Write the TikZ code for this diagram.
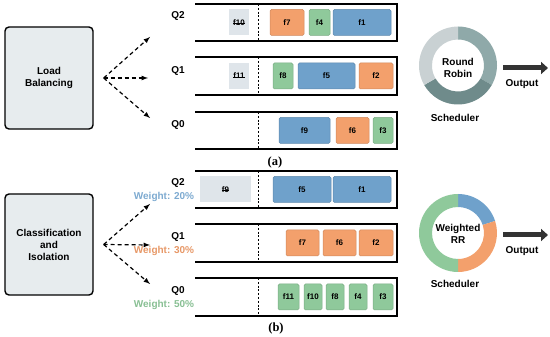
\documentclass[tikz,border=0pt]{standalone}
\usepackage{fontspec}
\setmainfont{Liberation Sans}
\newfontfamily\capfont{Liberation Serif}
\usetikzlibrary{arrows.meta, positioning}

\newsavebox\strkbox
\newcommand\strk[1]{\sbox\strkbox{#1}\rlap{\rule[0.33ex]{\wd\strkbox}{0.75pt}}\usebox\strkbox}

\definecolor{flowblue}{HTML}{6FA1CB}
\definecolor{floworange}{HTML}{F3A06C}
\definecolor{flowgreen}{HTML}{8FC99B}
\definecolor{gonegray}{HTML}{DFE5EA}
\definecolor{boxgray}{HTML}{E7ECEE}
\definecolor{ringlight}{HTML}{C9D1D3}
\definecolor{ringmid}{HTML}{8FA9A9}
\definecolor{ringdark}{HTML}{6F8B8B}
\definecolor{darkarr}{HTML}{333333}

\begin{document}
\begin{tikzpicture}[>=latex, x=1pt, y=1pt,
    font=\bfseries\fontsize{10}{12}\selectfont,
    bigbox/.style={draw, line width=1.4pt, rounded corners=4pt, fill=boxgray,
        minimum width=88pt, align=center, inner sep=0pt},
    flow/.style={draw=#1!85!black, fill=#1, rounded corners=1.5pt, line width=0.5pt,
        minimum height=26pt, inner sep=0pt, font=\bfseries\fontsize{8}{9}\selectfont},
    gone/.style={fill=gonegray, minimum height=26pt, inner sep=0pt,
        font=\bfseries\fontsize{8}{9}\selectfont},
    qline/.style={line width=1.6pt},
    sep/.style={dash pattern=on 2pt off 1.8pt, line width=0.7pt},
    spread/.style={->, line width=1.2pt, dash pattern=on 4pt off 3pt},
    outarr/.style={-{Triangle[length=7pt, width=12pt]}, line width=5pt, draw=darkarr},
    subcap/.style={font=\capfont\bfseries\fontsize{12.5}{14}\selectfont},
    ]
    \useasboundingbox (0,0) rectangle (550,337);

    % Khối bên trái
    \node[bigbox, minimum height=102pt] (lb) at (49,259) {Load\\Balancing};
    \node[bigbox, minimum height=101pt] (ci) at (49,92.5) {Classification\\and\\Isolation};

    % Mũi tên nét đứt
    \coordinate[right=10pt of lb] (sa);
    \coordinate[right=10pt of ci] (sb);
    \coordinate (ta2) at (150,300);
    \coordinate (ta1) at (148,259);
    \coordinate (ta0) at (150,219);
    \coordinate (tb2) at (150,133);
    \coordinate (tb1) at (150,92);
    \coordinate (tb0) at (150,53);
    \foreach \i in {0,1,2} {
        \draw[spread] (sa) -- (ta\i);
        \draw[spread] (sb) -- (tb\i);
    }

    % Nhãn hàng đợi
    \node (qa2) at (178,321) {Q2};
    \node (qa1) at (178,266) {Q1};
    \node (qa0) at (178,212) {Q0};
    \node (qb2) at (178,154) {Q2};
    \node (qb1) at (178,100) {Q1};
    \node (qb0) at (178,46) {Q0};
    \node[text=flowblue!90!white] (wb2) at (164,140) {Weight: 20\%};
    \node[text=floworange!95!black] (wb1) at (164,86) {Weight: 30\%};
    \node[text=flowgreen!95!black] (wb0) at (164,32) {Weight: 50\%};

    % Hàng đợi
    \foreach \yt/\yb in {333/296, 280/242, 225/188, 166/129, 113/75, 59/21} {
        \draw[qline] (195,\yt) -- (397,\yt) -- (397,\yb) -- (195,\yb);
        \draw[sep] (258,\yt) -- (258,\yb);
    }

    % Các luồng (a)
    \node[gone, minimum width=20pt] (a-f10) at (239,314.5) {\strk{f10}};
    \node[gone, minimum width=20pt] (a-f11) at (239,261) {\strk{f11}};
    \foreach \nm/\xa/\xb/\col/\yc in {
        f7/270/304/floworange/314.5, f4/309/330/flowgreen/314.5, f1/333/391/flowblue/314.5,
        f8/273/293/flowgreen/261, f5/298/355/flowblue/261, f2/359/393/floworange/261,
        f9/279/330/flowblue/206.5, f6/336/369/floworange/206.5, f3/373/393/flowgreen/206.5} {
        \node[flow=\col, minimum width=\xb pt-\xa pt] (a-\nm) at ({(\xa+\xb)/2},\yc) {\nm};
    }

    % Các luồng (b)
    \node[gone, minimum width=51pt] (b-f9) at (225.5,147.5) {\strk{f9}};
    \foreach \nm/\xa/\xb/\col/\yc in {
        f5/273/331/flowblue/147.5, f1/333/391/flowblue/147.5,
        f7/286/319/floworange/94, f6/323/356/floworange/94, f2/359/393/floworange/94,
        f11/278/299/flowgreen/40, f10/304/322/flowgreen/40, f8/326/344/flowgreen/40,
        f4/349/367/flowgreen/40, f3/373/393/flowgreen/40} {
        \node[flow=\col, minimum width=\xb pt-\xa pt] (b-\nm) at ({(\xa+\xb)/2},\yc) {\nm};
    }

    % Bộ lập lịch
    \coordinate (ra) at (458,271.5);
    \coordinate (rb) at (458,104);
    \foreach \a/\b/\c in {90/-30/ringmid, -30/-150/ringdark, 210/90/ringlight} {
        \fill[\c] ([shift={(\a:39)}]ra) arc[start angle=\a, end angle=\b, radius=39pt]
            -- ([shift={(\b:26)}]ra) arc[start angle=\b, end angle=\a, radius=26pt] -- cycle;
    }
    \foreach \a/\b/\c in {90/18/flowblue, 18/-90/floworange, 270/90/flowgreen} {
        \fill[\c] ([shift={(\a:39)}]rb) arc[start angle=\a, end angle=\b, radius=39pt]
            -- ([shift={(\b:26)}]rb) arc[start angle=\b, end angle=\a, radius=26pt] -- cycle;
    }
    \node[align=center] (rrA) at (458,269.5) {Round\\Robin};
    \node[align=center] (rrB) at (458,103) {Weighted\\RR};
    \node (schA) at (455,219) {Scheduler};
    \node (schB) at (455,53) {Scheduler};

    % Đầu ra
    \coordinate (oa1) at (503,269);
    \coordinate (oa2) at (548,269);
    \coordinate (ob1) at (503,102);
    \coordinate (ob2) at (548,102);
    \draw[outarr] (oa1) -- (oa2);
    \draw[outarr] (ob1) -- (ob2);
    \node (outA) at (522,253) {Output};
    \node (outB) at (522,86) {Output};

    % Chú thích
    \node[subcap] (capA) at (275,175) {(a)};
    \node[subcap] (capB) at (276,9) {(b)};
\end{tikzpicture}
\end{document}
